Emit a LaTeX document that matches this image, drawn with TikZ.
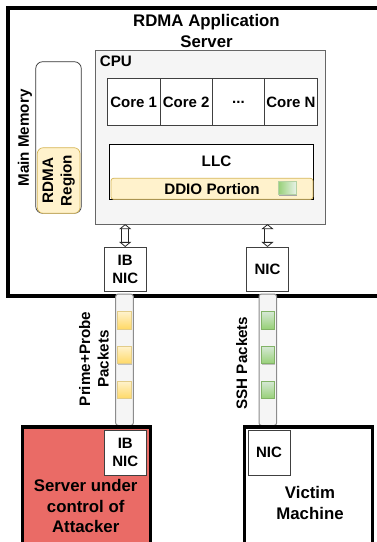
\documentclass[tikz,border=0pt]{standalone}
\usepackage{fontspec}
\setmainfont{Liberation Sans}
\usepackage{xcolor}
\usetikzlibrary{arrows.meta,positioning,shadows}
\definecolor{cpugray}{HTML}{F5F5F5}
\definecolor{edgegray}{HTML}{666666}
\definecolor{ddioyellow}{HTML}{FFF2CC}
\definecolor{ddioedge}{HTML}{D6B656}
\definecolor{pktgreen}{HTML}{97D077}
\definecolor{pktgreenbg}{HTML}{D5E8D4}
\definecolor{pktgreenedge}{HTML}{82B366}
\definecolor{pktyellow}{HTML}{FFD966}
\definecolor{attackred}{HTML}{EA6B66}

\begin{document}
\begin{tikzpicture}[x=1pt,y=-1pt,
      every node/.style={inner sep=0pt, outer sep=0pt, text=black},
      big/.style={font=\bfseries\fontsize{16.8}{20.5}\selectfont, align=center},
      lbl/.style={font=\bfseries\fontsize{15.2}{18.5}\selectfont, align=center},
      host/.style={draw, line width=3.6pt, minimum height=120pt, minimum width=128pt, anchor=north west},
      core/.style={draw=black!75, fill=white, line width=0.7pt, minimum width=52.4pt, minimum height=46.6pt,
                  font=\bfseries\fontsize{15}{18}\selectfont},
      nic/.style={draw=black!75, fill=white, line width=0.7pt, minimum width=42pt, minimum height=44.5pt,
                  font=\bfseries\fontsize{15}{18}\selectfont, align=center},
      pipe/.style={draw=black!45, fill=cpugray, rounded corners=2.5pt, line width=1pt,
                  minimum width=17.6pt, minimum height=131.5pt, anchor=north},
      pkty/.style={draw=ddioedge!70, top color=ddioyellow, bottom color=pktyellow, line width=0.6pt,
                  minimum width=13.6pt, minimum height=17.2pt, drop shadow={shadow xshift=0.8pt, shadow yshift=-0.8pt, fill=black!25, opacity=1}},
      pktg/.style={draw=pktgreenedge, top color=pktgreenbg, bottom color=pktgreen, line width=0.6pt,
                  minimum width=13.6pt, minimum height=17.2pt, drop shadow={shadow xshift=0.8pt, shadow yshift=-0.8pt, fill=black!25, opacity=1}},
      dbl/.style={{Triangle[open,length=5pt,width=12pt,fill=white]}-{Triangle[open,length=5pt,width=12pt,fill=white]}, double, double distance=6pt, line width=0.8pt, black!85}
  ]
    \useasboundingbox (0,0) rectangle (377,542);
    \clip (0,0) rectangle (377,542);

    % server
    \node[host, minimum width=400pt, minimum height=288pt] (server) at (7.8,7.8) {};
    \node[big] (title) at (206.5,31) {RDMA Application\\Server};

    % memory
    \node[draw=black!80, fill=white, rounded corners=7pt, line width=0.7pt, minimum width=45.6pt, minimum height=151.6pt, anchor=north west] (mem) at (35.7,61.7) {};
    \node[draw=ddioedge, fill=ddioyellow, rounded corners=6pt, line width=0.7pt, minimum width=42.7pt, minimum height=65.6pt, anchor=north west] (region) at (37.3,147.7) {};
    \node[lbl, rotate=90] at (region) (regiontxt) {RDMA\\Region};
    \node[lbl, rotate=90] (memtxt) at (25,138) {Main Memory};

    % cpu
    \node[draw=edgegray, fill=cpugray, line width=0.7pt, minimum width=230pt, minimum height=173.4pt, anchor=north west] (cpu) at (95.5,50.7) {};
    \node[lbl, anchor=north west] (cputxt) at (99.8,55.5) {CPU};
    \node[core] (c1) at (133.7,102) {Core 1};
    \node[core, right=0pt of c1] (c2) {Core 2};
    \node[core, right=0pt of c2] (c3) {...};
    \node[core, right=0pt of c3] (c4) {Core N};

    % llc
    \node[draw=black, fill=white, line width=0.7pt, minimum width=204pt, minimum height=55pt, anchor=north west] (llc) at (109.7,144.7) {};
    \node[lbl] (llctxt) at (216.5,161.5) {LLC};
    \node[draw=ddioedge, fill=ddioyellow, rounded corners=2.5pt, line width=0.7pt, minimum width=202pt, minimum height=21pt, anchor=north west] (ddio) at (111,178.3) {};
    \node[lbl] (ddiotxt) at (212,189.5) {DDIO Portion};
    \node[draw=pktgreenedge!60, left color=pktgreen, right color=pktgreenbg!60, line width=0.5pt, minimum width=17.5pt, minimum height=13pt,
          drop shadow={shadow xshift=1.2pt, shadow yshift=-1.4pt, fill=black!35, opacity=1}] (ddiopkt) at (287,188) {};

    % nics of server
    \node[nic] (ibnic) at (125.2,269.2) {IB\\NIC};
    \node[nic] (nic) at (267.5,269.2) {NIC};
    \draw[dbl] (cpu.south -| ibnic) -- (ibnic);
    \draw[dbl] (cpu.south -| nic) -- (nic);

    % links
    \node[pipe] (linka) at (124.5,294) {};
    \node[pipe] (linkb) at (267.8,294) {};
    \node[pkty] (ya) at (124.2,320.3) {};
    \node[pkty, below=17.6pt of ya] (yb) {};
    \node[pkty, below=17.6pt of yb] (yc) {};
    \node[pktg] (ga) at (267.8,320.3) {};
    \node[pktg, below=17.6pt of ga] (gb) {};
    \node[pktg, below=17.6pt of gb] (gc) {};
    \node[lbl, rotate=90] (primetxt) at (94,359) {Prime+Probe\\Packets};
    \node[lbl, rotate=90] (sshtxt) at (241.7,363) {SSH Packets};

    % attacker
    \node[host, fill=attackred] (attacker) at (22.6,427) {};
    \node[nic] (ibnicb) at (125.3,452.8) {IB\\NIC};
    \node[big] (attackertxt) at (85.7,506) {Server under\\control of\\Attacker};

    % victim
    \node[host, fill=white] (victim) at (244.3,427) {};
    \node[nic] (nicb) at (269,452.8) {NIC};
    \node[big] (victimtxt) at (310,503) {Victim\\Machine};
  \end{tikzpicture}
\end{document}
